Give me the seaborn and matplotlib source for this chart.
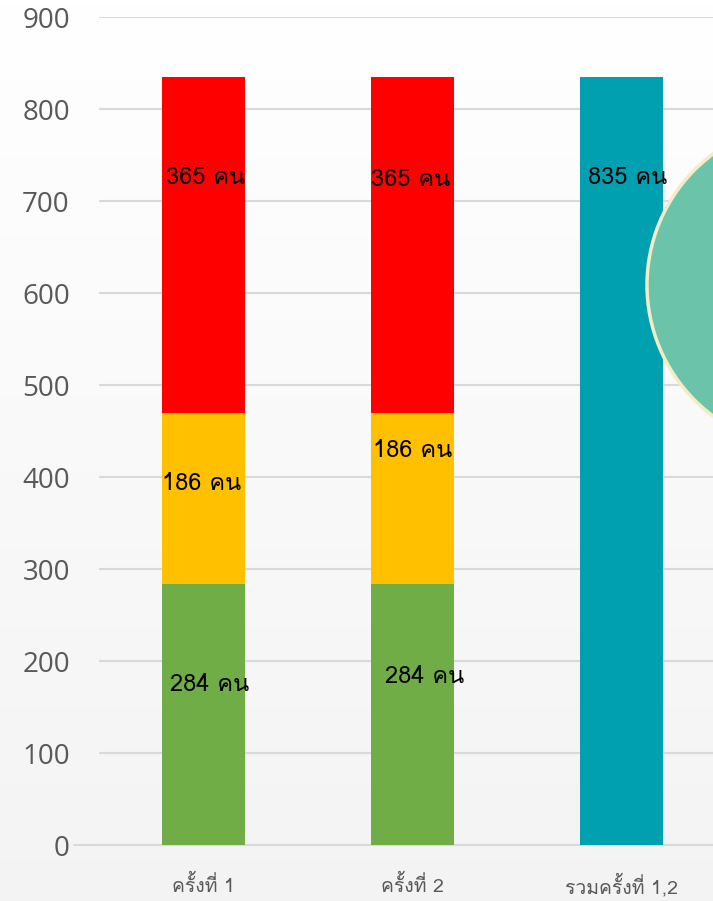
import numpy as np
import pandas as pd
import matplotlib
matplotlib.use("Agg")
import matplotlib.pyplot as plt
from matplotlib import font_manager
from matplotlib.ft2font import FT2Font
from matplotlib.patches import Ellipse
import seaborn as sns

# ---- data ----
categories = ["ครั้งที่ 1", "ครั้งที่ 2", "รวมครั้งที่ 1,2"]
green_vals = [284, 284, 0]
yellow_vals = [186, 186, 0]
red_vals = [365, 365, 0]
total_vals = [0, 0, 835]
unit = "คน"
y_ticks = [0, 100, 200, 300, 400, 500, 600, 700, 800, 900]

# label anchor heights (data units) and x nudges for each segment label
label_y_green = [174, 183]
label_y_yellow = [393, 429]
label_y_red = [726, 723]
label_y_total = 726
label_dx_green = [0.03, 0.06]
label_dx_yellow = [-0.01, 0.0]
label_dx_red = [0.01, -0.01]
label_dx_total = 0.03


def find_thai_fonts():
    names = []
    for f in font_manager.fontManager.ttflist:
        try:
            cmap = FT2Font(f.fname).get_charmap()
        except Exception:
            continue
        if ord("ค") in cmap and f.name not in names:
            names.append(f.name)
    return names


thai_fonts = find_thai_fonts()

sns.set_theme(style="white")
plt.rcParams["font.family"] = thai_fonts + ["Open Sans", "DejaVu Sans"]

fig = plt.figure(figsize=(7.13, 9.01), dpi=100)

# soft vertical background gradient
bg = fig.add_axes([0, 0, 1, 1], zorder=-10)
grad = np.linspace(1.0, 0.955, 256).reshape(-1, 1)
bg.imshow(np.dstack([grad, grad, grad]), aspect="auto", extent=[0, 1, 0, 1])
bg.set_axis_off()

ax = fig.add_axes([99 / 713, 56 / 901, 627 / 713, 828 / 901])
ax.patch.set_alpha(0)

df = pd.DataFrame({
    "cat": categories,
    "green": green_vals,
    "yellow": yellow_vals,
    "red": red_vals,
    "total": total_vals,
})
df["gy"] = df["green"] + df["yellow"]
df["gyr"] = df["gy"] + df["red"]

w = 0.4
bar_kw = dict(x="cat", width=w, ax=ax, saturation=1, linewidth=0)
sns.barplot(data=df, y="gyr", color="#ff0000", zorder=3, **bar_kw)
sns.barplot(data=df, y="gy", color="#ffc000", zorder=4, **bar_kw)
sns.barplot(data=df, y="green", color="#70ad47", zorder=5, **bar_kw)
sns.barplot(data=df, y="total", color="#00a0b0", zorder=6, **bar_kw)

ax.set_xlim(-0.5, 2.5)
ax.set_ylim(0, 900)
ax.set_yticks(y_ticks)
ax.set_xlabel("")
ax.set_ylabel("")
ax.grid(axis="y", color="#d9d9d9", linewidth=1.5, zorder=0)
ax.set_axisbelow(True)
for s in ax.spines.values():
    s.set_visible(False)
ax.tick_params(axis="y", length=0, pad=21, labelsize=20, labelcolor="#595959")
ax.tick_params(axis="x", length=0, pad=29, labelsize=14, labelcolor="#595959")
for t in ax.get_yticklabels():
    t.set_fontfamily(["Open Sans", "DejaVu Sans"])
for t in ax.get_xticklabels():
    t.set_verticalalignment("center")

# baseline
ax.plot([-0.62, 2.5], [0, 0], color="#d9d9d9", linewidth=1.5, clip_on=False,
        zorder=2)

lab_kw = dict(ha="center", va="center", fontsize=17, color="black", zorder=10)
for i in range(2):
    ax.text(i + label_dx_green[i], label_y_green[i], f"{green_vals[i]} {unit}", **lab_kw)
    ax.text(i + label_dx_yellow[i], label_y_yellow[i], f"{yellow_vals[i]} {unit}", **lab_kw)
    ax.text(i + label_dx_red[i], label_y_red[i], f"{red_vals[i]} {unit}", **lab_kw)
ax.text(2 + label_dx_total, label_y_total, f"{total_vals[2]} {unit}", **lab_kw)

# decorative circle at the right edge
circ = Ellipse((810 / 713, 1 - 285 / 901), 2 * 163 / 713, 2 * 163 / 901,
               transform=fig.transFigure, facecolor="#6bc4a9",
               edgecolor="#f3ecc4", linewidth=2.5, zorder=20)
fig.patches.append(circ)

fig.savefig("out.png", dpi=100)
